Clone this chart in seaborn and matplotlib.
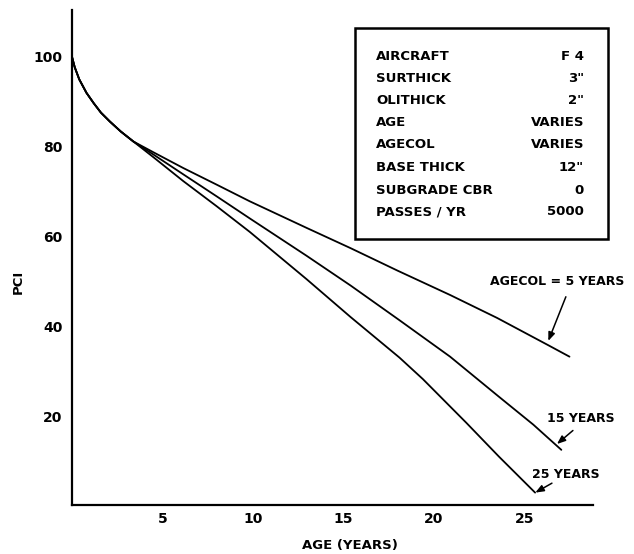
import matplotlib
matplotlib.use("Agg")
import matplotlib.pyplot as plt
import seaborn as sns
import pandas as pd
from matplotlib.patches import Rectangle

# ---- data ----
age_common = [0, 0.15, 0.4, 0.8, 1.2, 1.6, 2.1, 2.7, 3.39]
pci_common = [100, 97.7, 95.0, 92.0, 89.7, 87.6, 85.6, 83.4, 81.2]

age_5 = [4.5, 6.15, 8.0, 9.83, 12.97, 15.4, 18.0, 20.9, 23.5, 26.3, 27.5]
pci_5 = [78.8, 75.3, 71.6, 67.9, 62.0, 57.5, 52.5, 47.1, 42.0, 36.0, 33.4]

age_15 = [4.5, 6.15, 8.0, 9.83, 12.97, 15.4, 18.1, 20.9, 23.6, 25.5, 27.05]
pci_15 = [78.3, 73.9, 69.0, 64.1, 55.8, 49.2, 41.5, 33.4, 24.5, 18.3, 12.7]

age_25 = [4.5, 6.15, 8.0, 9.83, 12.97, 15.4, 18.1, 19.4, 21.8, 23.6, 25.6]
pci_25 = [77.7, 72.4, 66.8, 61.1, 50.6, 42.2, 33.2, 28.4, 18.7, 11.2, 3.2]

curve_names = ["AGECOL = 5 YEARS", "15 YEARS", "25 YEARS"]

x_ticks = [5, 10, 15, 20, 25]
y_ticks = [20, 40, 60, 80, 100]

param_names = ["AIRCRAFT", "SURTHICK", "OLITHICK", "AGE", "AGECOL",
               "BASE THICK", "SUBGRADE CBR", "PASSES / YR"]
param_values = ["F 4", '3"', '2"', "VARIES", "VARIES", '12"', "0", "5000"]

# ---- build long table ----
rows = []
for name, ages, pcis in zip(curve_names, [age_5, age_15, age_25], [pci_5, pci_15, pci_25]):
    for a, p in zip(age_common + ages, pci_common + pcis):
        rows.append({"age": a, "pci": p, "curve": name})
df = pd.DataFrame(rows)

sns.set_style("white")
plt.rcParams["font.family"] = ["DejaVu Sans"]
plt.rcParams["font.weight"] = "bold"
plt.rcParams["text.color"] = "black"
plt.rcParams["xtick.color"] = "black"
plt.rcParams["ytick.color"] = "black"

W, H = 634, 554
fig = plt.figure(figsize=(W / 100, H / 100), dpi=100)
ax = fig.add_axes([72 / W, 1 - 505 / H, 521 / W, 495 / H])

sns.lineplot(data=df, x="age", y="pci", hue="curve", palette=["black"] * 3,
             estimator=None, sort=False, legend=False, linewidth=1.3, ax=ax)

ax.set_xlim(0, 28.8)
ax.set_ylim(0.45, 110.4)
ax.set_xticks(x_ticks)
ax.set_yticks(y_ticks)
ax.set_xticklabels([str(t) for t in x_ticks], fontsize=10, fontweight="bold")
ax.set_yticklabels([str(t) for t in y_ticks], fontsize=10, fontweight="bold")
ax.tick_params(axis="both", direction="in", length=6.5, width=1.5, colors="black")
ax.tick_params(axis="x", pad=5)
ax.tick_params(axis="y", pad=7)
for s in ["top", "right"]:
    ax.spines[s].set_visible(False)
for s in ["left", "bottom"]:
    ax.spines[s].set_linewidth(1.6)
    ax.spines[s].set_color("black")
ax.set_xlabel("")
ax.set_ylabel("")

fig.text(350 / W, 1 - 545 / H, "AGE (YEARS)", ha="center", va="center",
         fontsize=9.5, fontweight="bold")
fig.text(18 / W, 1 - 282 / H, "PCI", ha="center", va="center", rotation=90,
         fontsize=9.5, fontweight="bold")

# curve labels and arrows
label_pos = [(26.8, 50.2), (28.1, 19.6), (27.3, 7.3)]
arrow_tail = [(27.3, 46.7), (27.69, 17.0), (26.53, 5.3)]
arrow_head = [(26.33, 36.9), (26.81, 14.0), (25.61, 3.2)]
for name, lp, tl, hd in zip(curve_names, label_pos, arrow_tail, arrow_head):
    ax.text(lp[0], lp[1], name, ha="center", va="center", fontsize=9,
            fontweight="bold", clip_on=False)
    ax.annotate("", xy=hd, xytext=tl, annotation_clip=False,
                arrowprops=dict(arrowstyle="-|>,head_length=0.5,head_width=0.2",
                                color="black", lw=1.1, shrinkA=0, shrinkB=0))

# parameter box
bx0, bx1, by0, by1 = 355, 608, 28, 239
fig.patches.append(Rectangle((bx0 / W, 1 - by1 / H), (bx1 - bx0) / W, (by1 - by0) / H,
                             transform=fig.transFigure, fill=False,
                             edgecolor="black", linewidth=1.8))
row_y = [56.7, 78.3, 100, 122.7, 145, 167.3, 190, 211.7]
for ry, n, v in zip(row_y, param_names, param_values):
    fig.text(376 / W, 1 - ry / H, n, ha="left", va="center", fontsize=9.5, fontweight="bold")
    fig.text(584 / W, 1 - ry / H, v, ha="right", va="center", fontsize=9.5, fontweight="bold")

fig.savefig("out.png", dpi=100, facecolor="white")
